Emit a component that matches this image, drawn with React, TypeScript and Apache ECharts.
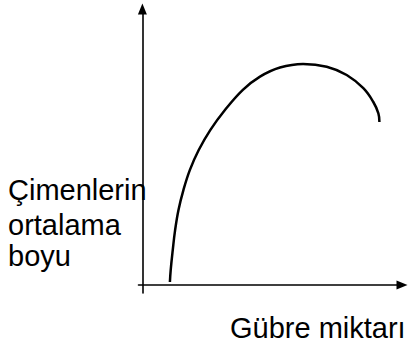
import React, { useEffect, useRef } from "react";
import * as echarts from "echarts";

// Curve: fertilizer amount (x) vs. average grass height (y), arbitrary units
const fertilizer = [10.6, 10.9, 11.7, 12.6, 13.9, 15.8, 18.3, 21.7, 26.2, 31.8, 38.7, 45.3, 53.0, 61.9, 71.0, 78.7, 85.1, 88.9, 90.9, 91.3];
const grassHeight = [1.1, 5.4, 12.7, 19.9, 27.2, 34.4, 41.7, 48.9, 56.2, 63.4, 70.7, 75.5, 78.8, 80.1, 79.1, 76.1, 71.3, 66.4, 62.2, 59.1];

const yTitleLines = ["Çimenlerin", "ortalama", "boyu"];
const xTitle = "Gübre miktarı";

const FONT = "'Liberation Sans', Arial, sans-serif";

export default function App() {
  const ref = useRef<HTMLDivElement>(null);
  useEffect(() => {
    if (!ref.current) return;
    const chart = echarts.init(ref.current, undefined, { renderer: "svg" });
    const data = fertilizer.map((x, i) => [x, grassHeight[i]]);
    const axisCommon = {
      type: "value" as const,
      axisLine: {
        show: true,
        onZero: true,
        symbol: ["none", "triangle"],
        symbolSize: [9, 11],
        lineStyle: { color: "#000", width: 1.6 },
      },
      axisTick: { show: false },
      axisLabel: { show: false },
      splitLine: { show: false },
    };
    const lineTops = [175, 210, 241];
    chart.setOption({
      animation: false,
      backgroundColor: "#fff",
      grid: { left: 138.5, right: 6, top: 9, bottom: 53 },
      xAxis: { ...axisCommon, min: -1.5, max: 100 },
      yAxis: { ...axisCommon, min: -2.9, max: 100 },
      series: [
        {
          type: "line",
          data,
          smooth: 0.4,
          showSymbol: false,
          symbol: "none",
          lineStyle: { color: "#000", width: 2.5 },
        },
      ],
      graphic: [
        ...yTitleLines.map((t, i) => ({
          type: "text",
          left: 8,
          top: lineTops[i],
          style: { text: t, font: `29px ${FONT}`, fill: "#000" },
        })),
        {
          type: "text",
          left: 230,
          top: 313,
          style: { text: xTitle, font: `29px ${FONT}`, fill: "#000" },
        },
      ],
    });
    return () => chart.dispose();
  }, []);
  return (
    <div
      ref={ref}
      style={{ position: "fixed", left: 0, top: 0, width: 408, height: 346 }}
    />
  );
}
